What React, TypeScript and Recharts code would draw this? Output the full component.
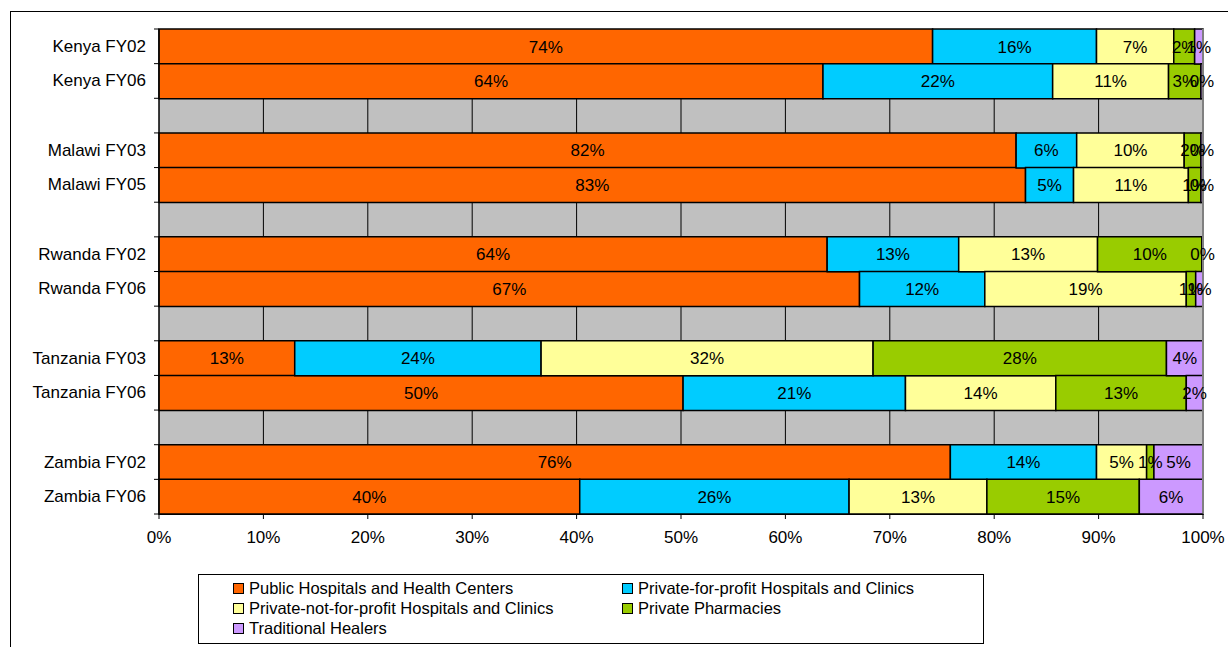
import React from 'react';
import { BarChart, Bar, XAxis, YAxis, CartesianGrid, LabelList, ReferenceLine } from 'recharts';

const categories = [
  'Kenya FY02', 'Kenya FY06', '',
  'Malawi FY03', 'Malawi FY05', '',
  'Rwanda FY02', 'Rwanda FY06', '',
  'Tanzania FY03', 'Tanzania FY06', '',
  'Zambia FY02', 'Zambia FY06',
];
const publicHosp = [74.1, 63.6, null, 82.1, 83.0, null, 64.0, 67.1, null, 13.0, 50.2, null, 75.8, 40.3];
const forProfit = [15.7, 22.0, null, 5.8, 4.6, null, 12.6, 12.0, null, 23.6, 21.3, null, 14.0, 25.8];
const notForProfit = [7.4, 11.1, null, 10.3, 11.0, null, 13.3, 19.3, null, 31.8, 14.4, null, 4.8, 13.2];
const pharmacies = [2.0, 3.1, null, 1.6, 1.2, null, 10.0, 0.9, null, 28.1, 12.5, null, 0.7, 14.6];
const healers = [0.8, 0.2, null, 0.2, 0.2, null, 0.1, 0.7, null, 3.5, 1.6, null, 4.7, 6.1];
const xTicks = [0, 10, 20, 30, 40, 50, 60, 70, 80, 90, 100];

const series = [
  { key: 'pub', name: 'Public Hospitals and Health Centers', color: '#FF6600', values: publicHosp },
  { key: 'pfp', name: 'Private-for-profit Hospitals and Clinics', color: '#00CCFF', values: forProfit },
  { key: 'pnfp', name: 'Private-not-for-profit Hospitals and Clinics', color: '#FFFF99', values: notForProfit },
  { key: 'pharm', name: 'Private Pharmacies', color: '#99CC00', values: pharmacies },
  { key: 'heal', name: 'Traditional Healers', color: '#CC99FF', values: healers },
];

const data = categories.map((c, i) => {
  const row: any = { idx: String(i) };
  series.forEach((s) => { row[s.key] = s.values[i]; });
  return row;
});

const W = 1228;
const H = 647;
const PLOT_LEFT = 159;
const PLOT_TOP = 29;
const PLOT_BOTTOM = 514;
const BAND = (PLOT_BOTTOM - PLOT_TOP) / categories.length;
const FONT = 'Arial, "Liberation Sans", sans-serif';

const YTick = (props: any) => {
  const { y, payload } = props;
  const i = Number(payload.value);
  return (
    <g>
      <text x={PLOT_LEFT - 13} y={y} textAnchor="end" dominantBaseline="central" fontSize={17} fontFamily={FONT} fill="#000">
        {categories[i]}
      </text>
      {i === 0 && <line x1={PLOT_LEFT - 5} x2={PLOT_LEFT} y1={y - BAND / 2} y2={y - BAND / 2} stroke="#000" />}
      <line x1={PLOT_LEFT - 5} x2={PLOT_LEFT} y1={y + BAND / 2} y2={y + BAND / 2} stroke="#000" />
    </g>
  );
};

const fmt = (v: any) => (v == null ? '' : Math.round(Number(v)) + '%');

export default function App() {
  return (
    <div style={{ position: 'absolute', left: 0, top: 0, width: W, height: H, overflow: 'hidden', background: '#fff' }}>
      <div style={{ position: 'absolute', left: 10, top: 11, width: W, height: H, border: '1px solid #000' }} />
      <div style={{ position: 'absolute', left: 0, top: 0 }}>
        <BarChart
          width={W}
          height={H}
          data={data}
          layout="vertical"
          barCategoryGap={0}
          margin={{ top: PLOT_TOP, right: W - 1203, left: 10, bottom: 103 }}
        >
          <CartesianGrid horizontal={false} stroke="#000" fill="#C0C0C0" fillOpacity={1} />
          <XAxis
            type="number"
            domain={[0, 100]}
            ticks={xTicks}
            tickFormatter={(v) => v + '%'}
            axisLine={{ stroke: '#000' }}
            tickLine={{ stroke: '#000' }}
            tickSize={5}
            tickMargin={12}
            height={30}
            tick={{ fontSize: 17, fontFamily: FONT, fill: '#000' }}
            interval={0}
          />
          <YAxis
            type="category"
            dataKey="idx"
            width={149}
            axisLine={{ stroke: '#000' }}
            tickLine={false}
            tick={<YTick />}
            interval={0}
          />
          <ReferenceLine x={100} stroke="#808080" strokeWidth={2} />
          {series.map((s) => (
            <Bar key={s.key} dataKey={s.key} name={s.name} stackId="a" fill={s.color} stroke="#000" strokeWidth={1.5} isAnimationActive={false}>
              <LabelList dataKey={s.key} position="center" formatter={fmt} fill="#000" fontSize={17} fontFamily={FONT} />
            </Bar>
          ))}
        </BarChart>
      </div>
      <div
        style={{
          position: 'absolute', left: 198, top: 574, width: 784, height: 68,
          border: '1px solid #000', background: '#fff', fontFamily: FONT, fontSize: 16.5, color: '#000',
        }}
      >
        {series.map((s, i) => {
          const col = i % 2;
          const row = Math.floor(i / 2);
          return (
            <div key={s.key} style={{ position: 'absolute', left: col === 0 ? 34 : 423, top: 3 + row * 20, height: 20, display: 'flex', alignItems: 'center', whiteSpace: 'nowrap' }}>
              <span style={{ display: 'inline-block', width: 9, height: 9, background: s.color, border: '1px solid #000', marginRight: 5 }} />
              {s.name}
            </div>
          );
        })}
      </div>
    </div>
  );
}
